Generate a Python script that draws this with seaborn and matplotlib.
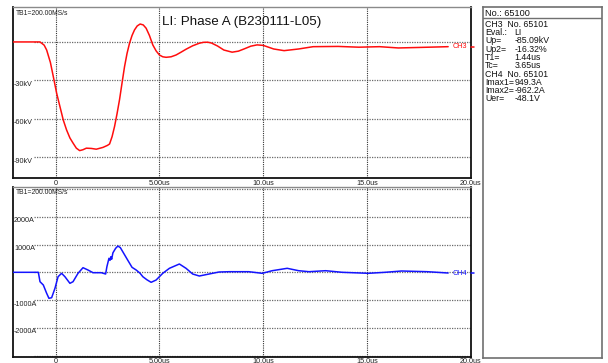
import numpy as np
import pandas as pd
import matplotlib
matplotlib.use("Agg")
import matplotlib.pyplot as plt
import seaborn as sns

# ---------------- data ----------------
title = "LI: Phase A (B230111-L05)"
tb_label = "TB1=200.00MS/s"

ch3_t = [-2.05, -0.75, -0.55, -0.43, -0.25, -0.11, 0.05, 0.21, 0.37, 0.53, 0.69, 0.84, 1.0,
         1.16, 1.32, 1.48, 1.72, 1.96, 2.28, 2.50, 2.60, 2.72, 2.84, 2.96, 3.08, 3.20, 3.32,
         3.44, 3.56, 3.68, 3.80, 3.93, 4.07, 4.22, 4.36, 4.52, 4.68, 4.84, 5.0, 5.16, 5.32,
         5.56, 5.80, 6.04, 6.28, 6.6, 6.92, 7.12, 7.32, 7.5, 7.8, 8.1, 8.5, 8.8, 9.07, 9.4,
         9.7, 10.0, 10.5, 11.0, 11.7, 12.4, 13.6, 14.6, 15.6, 16.5, 17.5, 18.9]
ch3_kv = [0, 0, -2.5, -6.3, -16, -27, -40, -50.5, -61, -68.8, -75, -79, -83,
          -84.9, -84.2, -83, -83.2, -83.8, -82.4, -80.8, -79.7, -74, -66, -56, -45, -32, -19.3,
          -9, -1, 5, 9.4, 12.5, 14, 13.3, 10.7, 5, -2.3, -7, -10.2, -11.6, -12,
          -11.6, -10.2, -8, -5.7, -3, -1, -0.3, -0.2, -0.8, -3.2, -6.3, -8, -7.2, -5.5, -3.3,
          -2.3, -2.7, -5.5, -6.8, -5.5, -3.7, -3.5, -4.1, -3.7, -4.7, -4.3, -3.7]

ch4_t = [-2.05, -0.83, -0.75, -0.59, -0.43, -0.32, -0.19, -0.03, 0.12, 0.29, 0.45, 0.69, 0.84,
         1.08, 1.32, 1.56, 1.80, 2.20, 2.41, 2.47, 2.57, 2.62, 2.66, 2.70, 2.76, 2.89, 3.0,
         3.12, 3.28, 3.47, 3.68, 3.88, 4.07, 4.2, 4.4, 4.6, 4.84, 5.16, 5.48, 5.96, 6.28,
         6.6, 6.92, 7.39, 7.87, 8.36, 9.3, 9.95, 10.43, 11.15, 11.7, 12.2, 13.0, 13.8, 15.06,
         15.86, 16.66, 17.9, 18.9]
ch4_a = [0, 0, -338, -457, -755, -935, -914, -576, -158, -36, -158, -396, -338,
         -36, 166, 83, -14, -14, -61, 200, 504, 430, 560, 470, 700, 863, 946,
         886, 683, 442, 180, 83, -36, -158, -270, -360, -277, -36, 144, 299, 144,
         -61, -133, -61, 11, 22, 22, -36, 58, 144, 58, 22, 58, 0, -36,
         0, 47, 22, -25]

x_ticks = [0, 5, 10, 15, 20]
x_ticklabels = ["0", "5.00us", "10.0us", "15.0us", "20.0us"]
kv_grid = [0, -30, -60, -90]
kv_labels = ["", "-30kV", "-60kV", "-90kV"]
a_grid = [3000, 2000, 1000, 0, -1000, -2000, -3000]
a_labels = ["", "2000A", "1000A", "", "-1000A", "-2000A", ""]

info_header = "No.: 65100"
info_keys = ["CH3  No. 65101", "Eval.:", "Up=", "Up2=", "T1=", "Tc=",
             "CH4  No. 65101", "Imax1=", "Imax2=", "Uer="]
info_vals = ["", "LI", "-85.09kV", "-16.32%", "1.44us", "3.65us",
             "", "949.3A", "-962.2A", "-48.1V"]

# ---------------- style ----------------
sns.set_theme(style="white")
plt.rcParams["font.family"] = ["Liberation Sans", "DejaVu Sans"]

W, H = 608, 363
fig = plt.figure(figsize=(W / 100, H / 100), dpi=100)
fig.patch.set_facecolor("white")


def px_box(x0, y0, x1, y1):
    return [x0 / W, 1 - y1 / H, (x1 - x0) / W, (y1 - y0) / H]


ax1 = fig.add_axes(px_box(13, 7, 471, 178))
ax2 = fig.add_axes(px_box(13, 186.7, 471, 356.7))

XMIN, XMAX = -2.05, 20.0

df3 = pd.DataFrame({"t": ch3_t, "v": ch3_kv})
df4 = pd.DataFrame({"t": ch4_t, "v": ch4_a})

grid_kw = dict(color="#6a6a6a", lw=0.9, ls=(0, (1, 1)), zorder=1)
vgrid_kw = dict(color="#333333", lw=0.8, ls=(0, (1, 1)), zorder=1)
small = 5.2

for ax, df, col, ylim, grid, glabels, chname in [
    (ax1, df3, "#ff0d0d", (-106.3, 27.3), kv_grid, kv_labels, "CH3"),
    (ax2, df4, "#1414ff", (-3036, 3080), a_grid, a_labels, "CH4"),
]:
    ax.set_xlim(XMIN, XMAX)
    ax.set_ylim(*ylim)
    ax.set_xticks([])
    ax.set_yticks([])
    ax.set_facecolor("white")
    for g, lab in zip(grid, glabels):
        ax.axhline(g, xmin=0.046, xmax=1, **grid_kw)
        if lab:
            ax.annotate(lab, xy=(0.002, g), xycoords=("axes fraction", "data"),
                        xytext=(0, -0.3), textcoords="offset points",
                        ha="left", va="top", fontsize=small, color="#222222")
    for xt in x_ticks[:-1]:
        ax.axvline(xt, **vgrid_kw)
    sns.lineplot(data=df, x="t", y="v", ax=ax, color=col, lw=1.1, sort=False,
                 estimator=None, zorder=3)
    ax.set_xlabel("")
    ax.set_ylabel("")
    lastv = df["v"].iloc[-1]
    ax.annotate(chname, xy=(XMAX, lastv), xycoords="data", xytext=(-13, 0),
                textcoords="offset points", ha="left", va="center",
                fontsize=small, color=col)
    ax.plot([XMAX - 0.02, XMAX + 0.15], [lastv, lastv], color=col, lw=1.1,
            clip_on=False, zorder=4)
    ax.text(0.006, 0.985, tb_label, transform=ax.transAxes, ha="left", va="top",
            fontsize=small - 0.3, color="#222222")
    for xt, xl in zip(x_ticks, x_ticklabels):
        ax.annotate(xl, xy=(xt, 0), xycoords=("data", "axes fraction"),
                    xytext=(0, -3.6), textcoords="offset points",
                    ha="center", va="center", fontsize=small, color="#222222",
                    annotation_clip=False)
    for s in ["left", "right", "bottom"]:
        ax.spines[s].set_color("#111111")
        ax.spines[s].set_linewidth(1.3)
    ax.spines["top"].set_color("#8a8a8a")
    ax.spines["top"].set_linewidth(1.0)

ax1.text(0.5, 0.915, title, transform=ax1.transAxes, ha="center", va="center",
         fontsize=9.6, color="#111111")

# ---------------- info panel ----------------
axi = fig.add_axes(px_box(482.5, 7, 602.3, 357.7))
axi.set_xlim(482.5, 602.3)
axi.set_ylim(357.7, 7)
axi.set_xticks([])
axi.set_yticks([])
for s in axi.spines.values():
    s.set_color("#707070")
    s.set_linewidth(1.2)
axi.axhline(18, color="#707070", lw=1.0)
fs_info = 6.3
axi.text(485, 13.2, info_header, ha="left", va="center", fontsize=fs_info + 0.3, color="#111111")
y0, dy = 24.2, 8.3
for i, (k, v) in enumerate(zip(info_keys, info_vals)):
    yy = y0 + i * dy
    axi.text(485, yy, k, ha="left", va="center", fontsize=fs_info, color="#111111")
    if v:
        axi.text(514.5, yy, v, ha="left", va="center", fontsize=fs_info, color="#111111")

fig.savefig("out.png", dpi=100, facecolor="white")
